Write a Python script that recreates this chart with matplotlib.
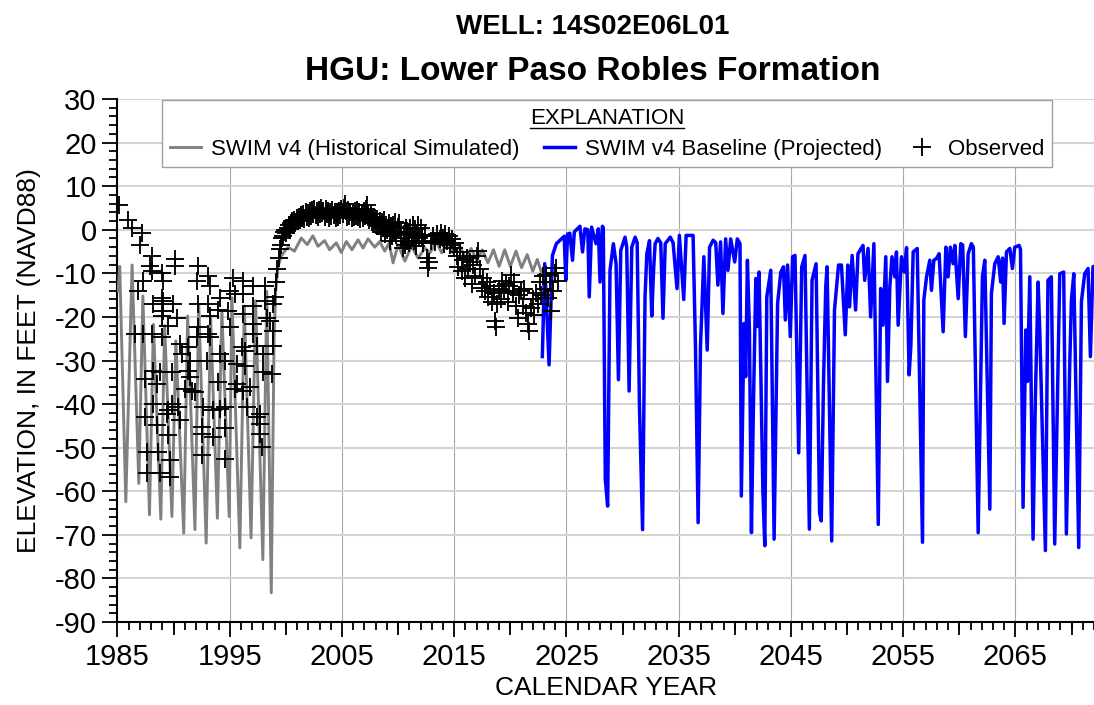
import matplotlib
matplotlib.use("Agg")
import matplotlib.pyplot as plt
from matplotlib.lines import Line2D
from matplotlib.ticker import MultipleLocator, FixedLocator

plt.rcParams['font.family'] = ['Liberation Sans', 'DejaVu Sans']
plt.rcParams['axes.unicode_minus'] = False

title_well = "WELL: 14S02E06L01"
title_hgu = "HGU: Lower Paso Robles Formation"
x_label = "CALENDAR YEAR"
y_label = "ELEVATION, IN FEET (NAVD88)"
legend_title = "EXPLANATION"
label_hist = "SWIM v4 (Historical Simulated)"
label_proj = "SWIM v4 Baseline (Projected)"
label_obs = "Observed"

x_ticks = [1985, 1995, 2005, 2015, 2025, 2035, 2045, 2055, 2065]
y_ticks = [30, 20, 10, 0, -10, -20, -30, -40, -50, -60, -70, -80, -90]

hist_year = [1985.05, 1985.2, 1985.74, 1986.3, 1986.9, 1987.26, 1987.85, 1988.2, 1988.86, 1989.2,
             1989.85, 1990.2, 1990.9, 1991.25, 1991.9, 1992.24, 1992.9, 1993.3, 1993.9, 1994.3,
             1994.95, 1995.2, 1995.9, 1996.3, 1996.9, 1997.3, 1997.95, 1998.3, 1998.7, 1998.95,
             1999.1, 1999.3, 1999.6, 1999.9, 2000.2, 2000.77, 2001.37, 2001.9, 2002.41, 2002.86,
             2003.45, 2003.9, 2004.49, 2004.94, 2005.39, 2005.89, 2006.43, 2006.88, 2007.32, 2007.92,
             2008.36, 2008.81, 2009.2, 2009.55, 2010.0, 2010.6, 2011.19, 2011.79, 2012.38, 2012.83,
             2013.42, 2013.87, 2014.46, 2014.91, 2015.5, 2016.0, 2016.5, 2017.0, 2017.5, 2018.0,
             2018.5, 2019.0, 2019.5, 2020.0, 2020.5, 2021.0, 2021.5, 2022.0, 2022.4, 2022.8]
hist_val = [-14.0, -8.4, -62.4, -8.1, -58.2, -15.2, -65.4, -21.7, -66.4, -22.0,
            -65.8, -25.5, -69.6, -19.8, -68.8, -17.1, -71.9, -20.2, -66.2, -18.6,
            -65.8, -15.6, -73.0, -17.5, -70.7, -16.3, -75.7, -14.1, -83.3, -25.0,
            -14.0, -8.5, -6.0, -4.9, -4.0, -4.9, -1.9, -3.4, -1.4, -3.8,
            -2.5, -4.6, -3.0, -5.2, -2.7, -4.6, -2.3, -4.2, -2.1, -4.0,
            -2.7, -4.9, -3.0, -7.6, -3.4, -7.2, -3.8, -6.5, -4.2, -5.3,
            -2.7, -5.3, -2.7, -5.3, -3.8, -6.5, -4.3, -7.0, -4.6, -7.6,
            -4.6, -8.4, -4.6, -8.4, -4.9, -8.7, -5.7, -9.5, -6.8, -10.0]

proj_year = [2022.85, 2023.06, 2023.45, 2023.75, 2024.1, 2024.55, 2024.8, 2024.94, 2025.1, 2025.3,
             2025.54, 2025.7, 2026.2, 2026.43, 2026.64, 2026.9, 2027.03, 2027.24, 2027.63, 2027.84,
             2027.99, 2028.2, 2028.28, 2028.46, 2028.67, 2028.88, 2029.18, 2029.42, 2029.63, 2029.84,
             2030.22, 2030.37, 2030.58, 2030.82, 2031.12, 2031.3, 2031.5, 2031.78, 2032.0, 2032.16,
             2032.4, 2032.6, 2032.76, 2032.9, 2033.15, 2033.4, 2033.6, 2033.8, 2034.25, 2034.5,
             2034.85, 2035.06, 2035.45, 2035.66, 2036.28, 2036.5, 2036.73, 2036.94, 2037.24, 2037.54,
             2037.75, 2038.07, 2038.3, 2038.49, 2038.73, 2038.94, 2039.18, 2039.39, 2039.63, 2039.99,
             2040.22, 2040.46, 2040.58, 2040.82, 2040.97, 2041.12, 2041.3, 2041.48, 2041.66, 2041.87,
             2042.0, 2042.16, 2042.5, 2042.67, 2042.85, 2043.2, 2043.5, 2043.81, 2044.1, 2044.34,
             2044.5, 2044.7, 2044.94, 2045.15, 2045.36, 2045.69, 2045.96, 2046.25, 2046.64, 2046.88,
             2047.24, 2047.55, 2047.7, 2047.9, 2048.1, 2048.22, 2048.63, 2048.88, 2049.24, 2049.5,
             2049.84, 2050.07, 2050.22, 2050.45, 2050.76, 2050.97, 2051.42, 2051.57, 2051.87, 2052.1,
             2052.39, 2052.78, 2052.99, 2053.2, 2053.45, 2053.6, 2053.81, 2054.0, 2054.25, 2054.4,
             2054.55, 2054.85, 2055.1, 2055.3, 2055.53, 2055.68, 2055.89, 2056.25, 2056.72, 2056.84,
             2057.08, 2057.37, 2057.52, 2057.73, 2057.97, 2058.2, 2058.56, 2058.8, 2059.0, 2059.2,
             2059.45, 2059.6, 2059.9, 2060.13, 2060.3, 2060.54, 2060.79, 2061.08, 2061.25, 2061.68,
             2062.06, 2062.27, 2062.72, 2062.86, 2063.16, 2063.46, 2063.69, 2063.85, 2063.99, 2064.2,
             2064.5, 2064.73, 2064.94, 2065.33, 2065.45, 2065.68, 2065.92, 2066.07, 2066.28, 2066.57,
             2066.78, 2067.02, 2067.17, 2067.67, 2067.9, 2068.2, 2068.5, 2068.8, 2068.95, 2069.3,
             2069.54, 2069.84, 2069.99, 2070.2, 2070.64, 2070.88, 2071.17, 2071.47, 2071.68, 2071.91,
             2072.1]
proj_val = [-29.1, -7.8, -31.0, -5.9, -3.2, -2.1, -1.5, -11.6, -1.0, -0.8,
            -7.0, -0.5, 0.8, -5.1, 0.2, 0.0, -15.4, 0.6, -3.2, 0.2,
            -12.0, 0.8, 0.5, -57.3, -63.4, -9.3, -3.2, -7.8, -34.4, -4.7,
            -1.7, -4.0, -37.0, -4.0, -1.7, -3.0, -40.0, -68.8, -15.4, -5.5,
            -2.5, -19.8, -9.3, -3.2, -2.0, -3.0, -20.3, -3.2, -1.7, -3.0,
            -13.5, -1.3, -16.0, -1.3, -1.3, -27.6, -67.2, -26.8, -6.2, -27.6,
            -4.0, -2.4, -3.0, -12.7, -2.8, -19.2, -2.1, -9.3, -2.1, -7.4,
            -2.1, -3.2, -61.1, -21.5, -33.7, -7.0, -23.0, -69.5, -39.8, -11.2,
            -22.2, -9.7, -60.0, -72.5, -15.4, -9.3, -71.0, -16.9, -9.7, -8.5,
            -20.7, -8.1, -24.5, -6.2, -5.9, -51.2, -8.5, -5.9, -68.7, -11.6,
            -7.8, -65.0, -66.8, -35.0, -13.1, -8.5, -71.4, -18.4, -8.1, -8.1,
            -24.1, -8.1, -17.7, -5.9, -18.4, -5.5, -3.6, -11.6, -4.3, -20.0,
            -3.2, -67.6, -13.5, -21.9, -6.2, -34.8, -13.1, -6.2, -10.8, -5.1,
            -21.9, -6.2, -9.7, -4.1, -33.3, -26.8, -5.1, -4.3, -71.7, -16.1,
            -10.8, -7.0, -13.9, -7.0, -6.6, -5.5, -23.4, -4.0, -10.8, -4.0,
            -7.8, -3.6, -15.8, -3.2, -3.5, -24.5, -5.5, -3.2, -4.0, -69.5,
            -10.8, -7.0, -64.1, -14.6, -7.8, -6.2, -12.0, -6.5, -21.5, -5.1,
            -4.3, -8.9, -4.0, -3.6, -4.5, -63.7, -23.0, -34.8, -10.8, -71.0,
            -38.2, -12.0, -23.4, -73.6, -11.6, -10.8, -72.1, -31.4, -10.1, -9.7,
            -69.8, -30.6, -16.1, -10.1, -72.9, -16.5, -10.1, -8.9, -29.1, -8.5,
            -8.3]

obs_year = [1985.16, 1985.96, 1986.26, 1987.15, 1987.0, 1988.04, 1987.9, 1988.04, 1990.12, 1990.12,
            1992.2, 1992.05, 1993.09, 1993.24, 1995.31, 1996.2, 1997.1, 1998.13, 1988.93, 1989.08,
            1987.3, 1986.86, 1988.93, 1989.08, 1988.19, 1989.97, 1992.2, 1993.09, 1994.13, 1995.02,
            1995.46, 1996.2, 1998.13, 1998.88, 1989.08, 1988.93, 1990.27, 1993.24, 1993.98, 1994.87,
            1996.2, 1997.1, 1998.28, 1998.58, 1997.1, 1989.53, 1986.56, 1987.3, 1988.04, 1988.93,
            1992.2, 1993.09, 1993.24, 1995.02, 1997.1, 1998.88, 1990.57, 1991.31, 1992.05, 1994.13,
            1996.06, 1996.35, 1997.39, 1997.99, 1998.88, 1990.71, 1991.46, 1992.94, 1994.57, 1995.61,
            1996.35, 1988.19, 1988.78, 1989.82, 1987.45, 1988.49, 1991.31, 1991.46, 1993.98, 1995.61,
            1997.99, 1998.73, 1991.01, 1991.6, 1991.9, 1995.46, 1996.2, 1996.8, 1988.19, 1989.82,
            1989.53, 1990.42, 1992.64, 1993.53, 1994.13, 1994.57, 1996.5, 1997.69, 1987.45, 1988.49,
            1989.38, 1990.57, 1992.49, 1992.49, 1994.57, 1993.53, 1997.39, 1997.69, 1997.69, 1989.53,
            1987.6, 1988.64, 1992.49, 1994.57, 1989.68, 1997.84, 1987.6, 1988.78, 1989.68,
            1999.05, 1999.15, 1999.25, 1999.35, 1999.45, 1999.55, 1999.65, 1999.75, 1999.85, 1999.95,
            2000.05, 2000.15, 2000.25, 2000.35, 2000.45, 2000.55, 2000.65, 2000.75, 2000.85, 2000.95,
            2001.05, 2001.15, 2001.25, 2001.35, 2001.45, 2001.55, 2001.65, 2001.75, 2001.85, 2001.95,
            2002.05, 2002.15, 2002.25, 2002.35, 2002.45, 2002.55, 2002.65, 2002.75, 2002.85, 2002.95,
            2003.05, 2003.15, 2003.25, 2003.35, 2003.45, 2003.55, 2003.65, 2003.75, 2003.85, 2003.95,
            2004.05, 2004.15, 2004.25, 2004.35, 2004.45, 2004.55, 2004.65, 2004.75, 2004.85, 2004.95,
            2005.05, 2005.15, 2005.25, 2005.35, 2005.45, 2005.55, 2005.65, 2005.75, 2005.85, 2005.95,
            2006.05, 2006.15, 2006.25, 2006.35, 2006.45, 2006.55, 2006.65, 2006.75, 2006.85, 2006.95,
            2007.05, 2007.15, 2007.25, 2007.35, 2007.45, 2007.55, 2007.65, 2007.75, 2007.85, 2007.95,
            2008.05, 2008.15, 2008.25, 2008.35, 2008.45, 2008.55, 2008.65, 2008.75, 2008.85, 2008.95,
            2009.05, 2009.15, 2009.25, 2009.35, 2009.45, 2009.55, 2009.65, 2009.75, 2009.85, 2009.95,
            2010.1, 2010.3, 2010.4, 2010.5, 2010.6, 2010.7, 2010.8, 2010.9, 2011.0, 2011.1,
            2011.2, 2011.3, 2011.4, 2011.5, 2011.6, 2011.7, 2011.8, 2011.9, 2012.0, 2012.1,
            2012.2, 2012.4, 2012.6, 2012.7, 2012.75, 2012.9, 2013.1, 2013.3, 2013.5, 2013.7,
            2013.8, 2014.0, 2014.1, 2014.2, 2014.35, 2014.5, 2014.65, 2014.8, 2014.95, 2015.1,
            2015.25, 2015.35, 2015.5, 2015.65, 2015.8, 2015.95, 2016.1, 2016.25, 2016.4, 2016.55,
            2016.7, 2016.85, 2017.0, 2017.15, 2017.3, 2017.45, 2017.6, 2017.75, 2017.9, 2018.05,
            2018.2, 2018.35, 2018.5, 2018.6, 2018.68, 2018.85, 2019.0, 2019.15, 2019.3, 2019.45,
            2019.6, 2019.75, 2019.9, 2020.05, 2020.2, 2020.35, 2020.5, 2020.65, 2020.8, 2020.95,
            2021.1, 2021.25, 2021.4, 2021.55, 2021.7, 2021.85, 2022.0, 2022.15, 2022.3, 2022.45,
            2022.6, 2022.75, 2022.9, 2023.05, 2023.2, 2023.35, 2023.5, 2023.65, 2023.8, 2023.95,
            2024.1, 2024.25]
obs_val = [5.7, 2.3, 0.4, -0.8, -3.4, -6.1, -8.4, -9.5, -6.8, -8.4,
           -8.4, -11.8, -10.6, -12.9, -11.0, -11.8, -12.9, -12.9, -9.9, -11.8,
           -11.8, -14.1, -15.6, -16.3, -17.1, -17.1, -17.1, -17.1, -15.6, -14.1,
           -14.8, -14.8, -16.3, -17.1, -18.6, -19.8, -20.2, -19.8, -18.3, -18.6,
           -19.4, -17.5, -20.2, -20.9, -21.7, -22.1, -24.0, -24.0, -24.0, -24.7,
           -22.4, -24.0, -24.7, -22.4, -24.0, -23.2, -26.2, -27.0, -24.7, -28.5,
           -27.0, -27.8, -26.6, -28.5, -26.6, -28.5, -30.0, -30.0, -30.0, -30.8,
           -31.2, -32.3, -32.7, -32.7, -34.2, -35.4, -32.3, -33.8, -35.0, -35.4,
           -32.7, -33.1, -36.5, -36.9, -37.3, -36.5, -36.9, -36.1, -39.9, -39.9,
           -41.4, -40.7, -40.7, -41.4, -41.1, -40.7, -40.7, -42.2, -43.0, -44.9,
           -42.2, -43.7, -45.2, -46.8, -45.6, -47.5, -43.0, -44.5, -46.8, -47.1,
           -51.0, -51.0, -51.7, -52.5, -52.9, -49.8, -55.9, -55.9, -56.7,
           -15.5, -12.0, -9.0, -6.5, -4.5, -3.5, -2.0, -1.5, -0.5, 0.0,
           -0.8, 0.5, 1.0, 0.2, 1.5, 2.0, 1.0, 2.3, 1.6, 2.8,
           2.0, 3.0, 2.2, 3.4, 2.6, 3.6, 2.5, 4.0, 3.0, 3.8,
           2.8, 4.2, 3.2, 4.5, 3.5, 4.8, 3.4, 4.2, 2.9, 4.6,
           3.6, 4.9, 3.8, 4.4, 3.0, 4.7, 3.5, 4.3, 2.8, 4.0,
           3.2, 4.6, 3.4, 4.1, 2.6, 3.9, 2.9, 4.4, 3.3, 4.8,
           3.6, 5.0, 6.0, 4.2, 3.0, 4.5, 3.1, 4.0, 2.7, 3.8,
           2.9, 4.3, 3.2, 4.6, 3.0, 4.1, 2.5, 3.9, 2.8, 4.4,
           3.1, 4.8, 5.6, 3.3, 2.2, 3.6, 1.8, 3.0, 1.5, 2.6,
           1.0, 2.4, 0.8, 2.0, -0.5, 1.8, 0.5, 2.2, -1.0, 1.2,
           0.0, 1.5, -2.5, 0.8, -1.5, 1.0, -0.5, 1.8, -1.2, 0.6,
           1.5, -2.0, -4.2, -1.0, -3.5, 0.3, -2.5, -0.5, -3.0, 0.5,
           -1.5, 1.0, -2.5, 0.2, -3.8, -1.0, 1.2, -2.0, 0.5, -1.5,
           -3.0, -1.2, -6.5, -8.8, -7.5, -2.5, -1.5, -2.8, -1.0, -2.2,
           -0.8, -1.8, -3.2, -1.0, -2.5, -1.5, -3.5, -2.2, -4.2, -3.0,
           -6.0, -8.5, -5.0, -9.5, -7.0, -11.0, -6.5, -9.0, -7.5, -12.5,
           -8.0, -10.5, -6.0, -4.9, -9.0, -13.3, -11.0, -14.1, -12.0, -15.5,
           -13.0, -16.5, -14.5, -21.0, -22.4, -17.0, -13.5, -16.0, -11.8, -14.1,
           -12.5, -16.5, -13.0, -10.3, -14.5, -12.0, -17.5, -20.2, -15.0, -14.1,
           -17.5, -13.5, -19.0, -21.7, -23.2, -18.0, -16.0, -19.5, -14.5, -17.0,
           -12.0, -15.0, -10.5, -13.5, -10.3, -15.6, -12.0, -18.6, -14.0, -10.0,
           -8.7, -11.8]

FS = 21
LFS = 16

fig = plt.figure(figsize=(10.94, 7.05), dpi=100)
ax = fig.add_axes([0.1074, 0.1177, 0.8926, 0.7419])

ax.plot(hist_year, hist_val, color='#808080', lw=2.1, zorder=3, label=label_hist)
ax.plot(proj_year, proj_val, color='#0000ff', lw=2.5, zorder=4, label=label_proj)
ax.plot(obs_year, obs_val, linestyle='none', marker='+', color='black', markersize=12.5,
        markeredgewidth=1.35, zorder=5, label=label_obs)

ax.set_xlim(1985, 2072)
ax.set_ylim(-90, 30)
ax.xaxis.set_major_locator(FixedLocator(x_ticks))
ax.xaxis.set_minor_locator(MultipleLocator(1))
ax.yaxis.set_major_locator(FixedLocator(y_ticks))
ax.yaxis.set_minor_locator(MultipleLocator(2))
ax.set_xticklabels([str(t) for t in x_ticks])
ax.set_yticklabels([str(t) for t in y_ticks])

for s in ['top', 'right']:
    ax.spines[s].set_visible(False)
for s in ['left', 'bottom']:
    ax.spines[s].set_linewidth(1.5)
    ax.spines[s].set_color('black')

ax.tick_params(axis='both', which='major', direction='out', length=11, width=1.3, labelsize=FS, pad=4)
ax.tick_params(axis='both', which='minor', direction='out', length=6, width=1.3)

ax.grid(axis='y', which='major', color='#d4d4d4', lw=1.5, zorder=0)
ax.grid(axis='x', which='major', color='#a8a8a8', lw=0.8, zorder=0)
ax.set_axisbelow(True)

sec = ax.secondary_xaxis('bottom')
sec.xaxis.set_major_locator(FixedLocator([1990, 2000, 2010, 2020, 2030, 2040, 2050, 2060, 2070]))
sec.tick_params(axis='x', which='major', direction='out', length=9, width=1.3, labelbottom=False)
sec.spines['bottom'].set_visible(False)

ax.set_xlabel(x_label, fontsize=19, labelpad=4)
ax.set_ylabel(y_label, fontsize=19, labelpad=10)

fig.text(0.542, 0.962, title_well, ha='center', va='center', fontsize=20, fontweight='bold')
fig.text(0.542, 0.898, title_hgu, ha='center', va='center', fontsize=24, fontweight='bold')

leg = ax.legend(loc='upper left', bbox_to_anchor=(0.0456, 0.998),
                ncol=3, title=legend_title, fontsize=LFS, title_fontsize=LFS, frameon=True,
                fancybox=False, edgecolor='#a0a0a0', framealpha=1, borderpad=0.35,
                handlelength=1.4, handletextpad=0.45, columnspacing=1.1, borderaxespad=0,
                labelspacing=0.3)
leg.get_frame().set_linewidth(1.0)
leg._legend_box.sep = 7

fig.canvas.draw()
tb = leg.get_title().get_window_extent().transformed(fig.transFigure.inverted())
fig.add_artist(Line2D([tb.x0, tb.x1], [tb.y0 + 0.001, tb.y0 + 0.001], transform=fig.transFigure,
                      color='black', lw=1.0))

fig.savefig('out.png', dpi=100)
